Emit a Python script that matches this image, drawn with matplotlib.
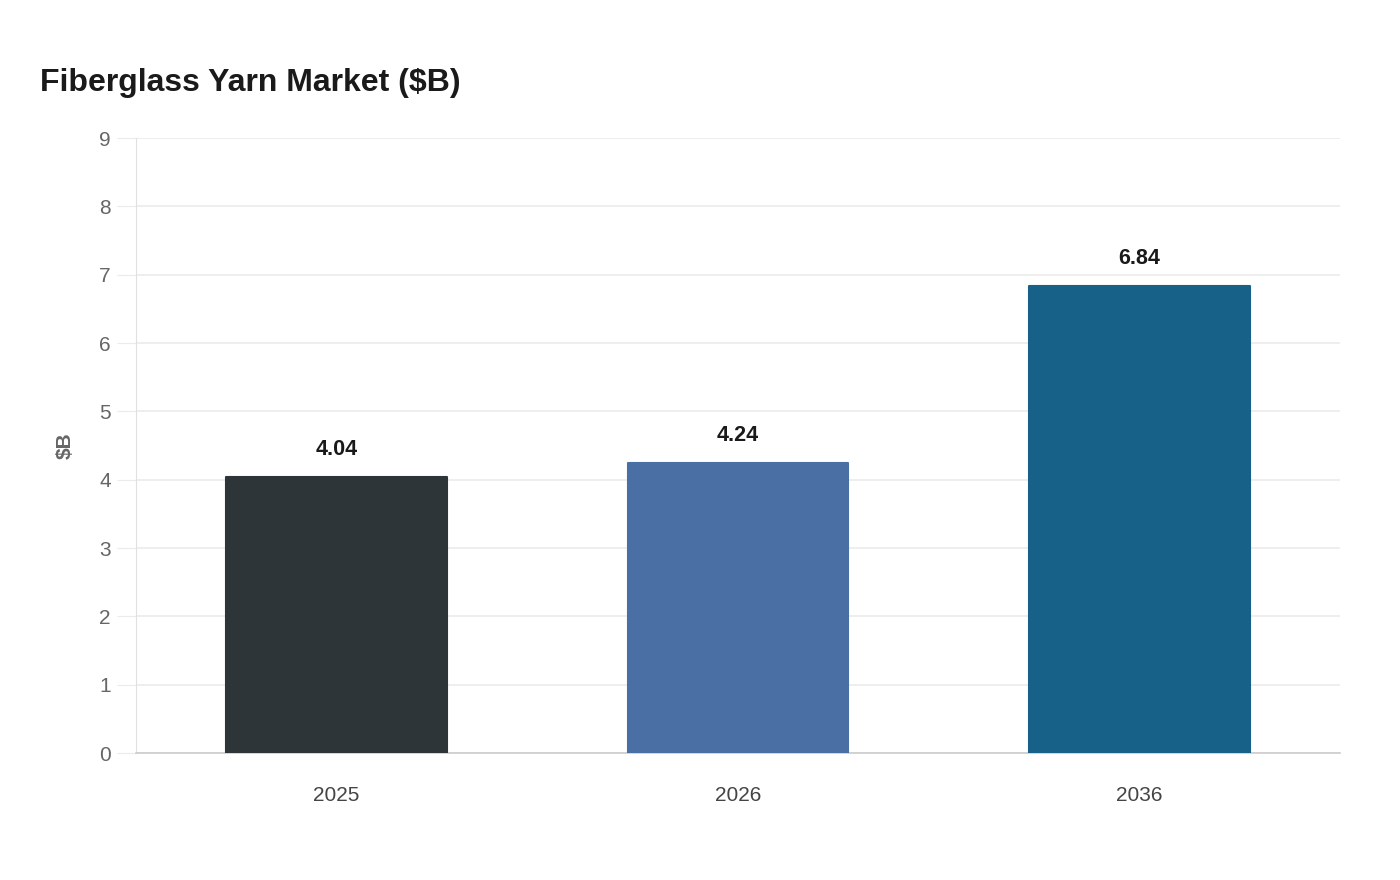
import matplotlib
matplotlib.use("Agg")
import matplotlib.pyplot as plt

plt.rcParams['font.family'] = ['Liberation Sans', 'DejaVu Sans']

years = ['2025', '2026', '2036']
values = [4.04, 4.24, 6.84]
colors = ['#2e3538', '#4a6fa5', '#176087']

fig = plt.figure(figsize=(14, 8.8), dpi=100)
ax = fig.add_axes([136 / 1400, 1 - 753 / 880, (1340 - 136) / 1400, (753 - 138) / 880])

x = range(len(years))
ax.bar(x, values, width=0.55, color=colors, zorder=3,
       edgecolor=colors, linewidth=1.5, joinstyle='round')
for i, v in enumerate(values):
    ax.text(i, v + 0.25, f'{v:.2f}', ha='center', va='bottom',
            fontsize=15.5, fontweight='bold', color='#1a1a1a')

ax.set_xlim(-0.5, 2.5)
ax.set_ylim(0, 9)
ax.set_yticks(range(10))
ax.set_xticks(list(x))
ax.set_xticklabels(years)
ax.grid(axis='y', color='#ebebeb', linewidth=1.2, zorder=0)
ax.tick_params(axis='y', length=14, color='#ebebeb', labelsize=15, labelcolor='#666666', pad=4)
ax.tick_params(axis='x', length=0, labelsize=15, labelcolor='#444444', pad=24)
for s in ['top', 'right']:
    ax.spines[s].set_visible(False)
ax.spines['left'].set_color('#e0e0e0')
ax.spines['bottom'].set_color('#cccccc')
ax.spines['bottom'].set_linewidth(1.2)

ax.set_ylabel('$B', fontsize=15, fontweight='bold', color='#666666', labelpad=18)

fig.text(40 / 1400, 1 - 91 / 880, 'Fiberglass Yarn Market ($B)', fontsize=23,
         fontweight='bold', color='#1a1a1a', ha='left', va='baseline')

fig.savefig('out.png', dpi=100, facecolor='white')
